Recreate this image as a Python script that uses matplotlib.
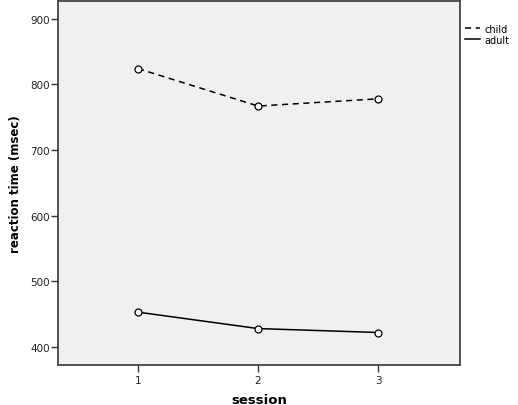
import matplotlib
matplotlib.use("Agg")
import matplotlib.pyplot as plt

sessions = [1, 2, 3]
child = [824, 767, 778]
adult = [453, 428, 422]
yticks = [400, 500, 600, 700, 800, 900]

fig = plt.figure(figsize=(5.18, 4.06), dpi=100)
ax = fig.add_axes([58/518, 1-366/406, (460-58)/518, (366-2)/406])
ax.set_facecolor('#f0f0f0')

l1, = ax.plot(sessions, child, color='black', linestyle=(0, (4, 3)), linewidth=1.1,
              marker='o', markersize=5, markerfacecolor='white', markeredgecolor='black',
              markeredgewidth=0.9, label='child')
l2, = ax.plot(sessions, adult, color='black', linestyle='-', linewidth=1.1,
              marker='o', markersize=5, markerfacecolor='white', markeredgecolor='black',
              markeredgewidth=0.9, label='adult')

ax.set_xlim(0.333, 3.683)
ax.set_ylim(372.5, 927)
ax.set_xticks(sessions)
ax.set_xticklabels([str(s) for s in sessions])
ax.set_yticks(yticks)
ax.set_yticklabels([str(v) for v in yticks])
ax.tick_params(axis='both', labelsize=7.5, length=5, width=1, color='#333333', labelcolor='#222222')
ax.tick_params(axis='y', pad=1)
ax.tick_params(axis='x', pad=2)
for side in ['left', 'bottom', 'top', 'right']:
    ax.spines[side].set_color('#444444')
    ax.spines[side].set_linewidth(1.3)

ax.set_xlabel('session', fontsize=9.5, fontweight='bold', labelpad=6)
ax.set_ylabel('reaction time (msec)', fontsize=8.5, fontweight='bold', labelpad=6)

fig.legend(handles=[l1, l2], labels=['child', 'adult'], loc='upper left',
           bbox_to_anchor=(458/518, 1-18/406), frameon=False, fontsize=7,
           handlelength=1.6, handletextpad=0.4, labelspacing=0.1, borderpad=0.2)
for h in fig.legends[0].legend_handles:
    h.set_marker('')

fig.savefig('out.png', dpi=100)
